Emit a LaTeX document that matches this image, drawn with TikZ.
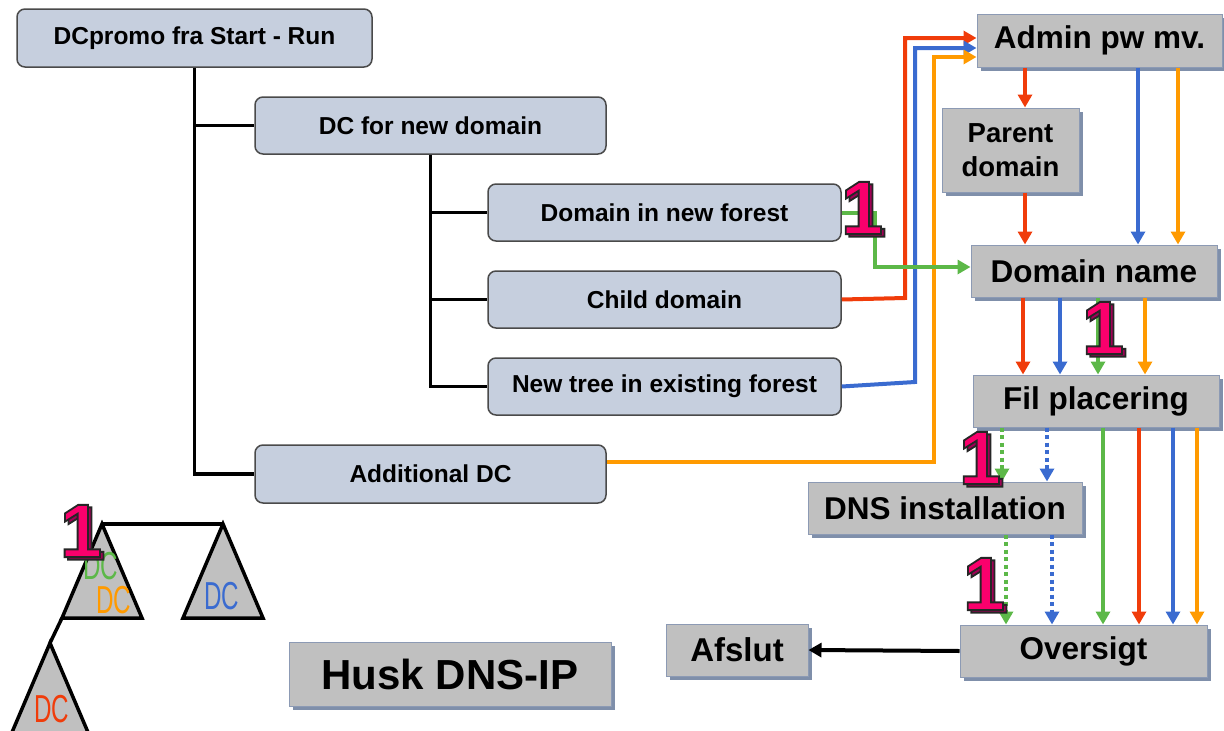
\documentclass[tikz,border=0pt]{standalone}
\usepackage{fontspec}
\setmainfont{Liberation Sans}
\newfontfamily\dcfont[FakeStretch=0.62]{Liberation Sans}
\usetikzlibrary{arrows.meta,shadows}
\definecolor{lfill}{HTML}{C6CFDE}
\definecolor{lborder}{HTML}{4A4A4A}
\definecolor{gfill}{HTML}{C0C0C0}
\definecolor{gborder}{HTML}{8C9AB4}
\definecolor{gshadow}{HTML}{7F8FAA}
\definecolor{cred}{HTML}{F03C0A}
\definecolor{cblue}{HTML}{3A6BD0}
\definecolor{corange}{HTML}{FF9A00}
\definecolor{cgreen}{HTML}{5CB848}
\definecolor{onepink}{HTML}{FA006C}
\definecolor{oneshadow}{HTML}{A00055}
\tikzset{
  lbox/.style={draw=lborder, line width=1.5pt, fill=lfill, rounded corners=8pt, inner sep=0pt,
    font=\bfseries\fontsize{24.5}{26}\selectfont},
  gbox/.style={draw=gborder, line width=1pt, fill=gfill, inner sep=0pt,
    general shadow={fill=gshadow, shadow xshift=4pt, shadow yshift=-4pt},
    font=\bfseries\fontsize{31.5}{33}\selectfont},
  tline/.style={line width=3.5pt, draw=black},
  carr/.style={line width=4pt, -{Triangle[length=13pt,width=14pt]}},
  dotarr/.style={line width=4pt, dash pattern=on 4pt off 3.5pt, -{Triangle[length=13pt,width=14pt]}},
  tri/.style={draw=black, line width=3.5pt, fill=gfill, line join=miter},
  dclabel/.style={inner sep=0pt, font=\dcfont\fontsize{39}{39}\selectfont},
  onefont/.style={inner sep=0pt, font=\bfseries\fontsize{76}{76}\selectfont},
}
\newcommand\outlined[1]{\special{pdf:literal direct 2 Tr 1.8 w 0.15 0.15 0.15 RG}#1\special{pdf:literal direct 0 Tr}}
\newcommand\markone[2]{%
  \begin{scope}[shift={(#2)}]
    \node[onefont, text=oneshadow] (#1s) at (3.5,2.5) {\outlined{1}};
    \node[onefont, text=onepink] (#1) at (0,0) {\outlined{1}};
  \end{scope}}
\begin{document}
\begin{tikzpicture}[x=1pt,y=-1pt]
\useasboundingbox (0,0) rectangle (1224,731);

% left tree boxes
\node[lbox, minimum width=355pt, minimum height=58pt] (start) at (194.5,38) {DCpromo fra Start - Run};
\node[lbox, minimum width=351pt, minimum height=57pt] (newdom) at (430.5,125.5) {DC for new domain};
\node[lbox, minimum width=353pt, minimum height=57pt] (forest) at (664.5,212.5) {Domain in new forest};
\node[lbox, minimum width=353pt, minimum height=57pt] (child) at (664.5,299.5) {Child domain};
\node[lbox, minimum width=353pt, minimum height=57pt] (newtree) at (664.5,386.5) {New tree in existing forest};
\node[lbox, minimum width=351pt, minimum height=58pt] (addl) at (430.5,474) {Additional DC};

% tree lines
\draw[tline] (start.south) -- (start.south |- addl.west) -- (addl.west);
\draw[tline] (start.south |- newdom.west) -- (newdom.west);
\draw[tline] (newdom.south) -- (newdom.south |- newtree.west) -- (newtree.west);
\draw[tline] (newdom.south |- forest.west) -- (forest.west);
\draw[tline] (newdom.south |- child.west) -- (child.west);

% right boxes
\node[gbox, minimum width=245pt, minimum height=53pt] (admin) at (1099.5,40.5) {Admin pw mv.};
\node[gbox, minimum width=137pt, minimum height=84pt, align=center,
      font=\bfseries\fontsize{27.5}{34}\selectfont] (parent) at (1010.5,150) {Parent\\domain};
\node[gbox, minimum width=246pt, minimum height=52pt] (dname) at (1094,271) {Domain name};
\node[gbox, minimum width=246pt, minimum height=52pt] (fil) at (1096,401) {Fil placering};
\node[gbox, minimum width=274pt, minimum height=52pt] (dns) at (945,508) {DNS installation};
\node[gbox, minimum width=247pt, minimum height=52pt] (over) at (1083.5,651) {Oversigt};
\node[gbox, minimum width=142pt, minimum height=52pt, font=\bfseries\fontsize{33}{35}\selectfont] (afslut) at (737,650) {Afslut};
\node[gbox, minimum width=322pt, minimum height=64pt, font=\bfseries\fontsize{42}{44}\selectfont] (husk) at (450,674) {Husk DNS-IP};

% connectors into Admin
\draw[carr, cred] (child.east) -- (905,298) -- (905,38) -- (admin.west |- 905,38);
\draw[carr, cblue] (newtree.east) -- (915,382) -- (915,48) -- (admin.west |- 915,48);
\draw[carr, corange] (addl.east |- 606,462) -- (934,462) -- (934,57) -- (admin.west |- 934,57);
\draw[carr, cgreen] (forest.east) -- (875,212.5) -- (875,267) -- (dname.west |- 875,267);

% admin -> parent -> domain name
\draw[carr, cred] (1025,0 |- admin.south) -- (1025,0 |- parent.north);
\draw[carr, cred] (1025,0 |- parent.south) -- (1025,0 |- dname.north);
\draw[carr, cblue] (1138,0 |- admin.south) -- (1138,0 |- dname.north);
\draw[carr, corange] (1178,0 |- admin.south) -- (1178,0 |- dname.north);

% domain name -> fil placering
\draw[carr, cred] (1023,0 |- dname.south) -- (1023,0 |- fil.north);
\draw[carr, cblue] (1060,0 |- dname.south) -- (1060,0 |- fil.north);
\draw[carr, cgreen] (1098,0 |- dname.south) -- (1098,0 |- fil.north);
\draw[carr, corange] (1145,0 |- dname.south) -- (1145,0 |- fil.north);

% fil placering -> dns / oversigt
\draw[dotarr, cgreen] (1002,0 |- fil.south) -- (1002,0 |- dns.north);
\draw[dotarr, cblue] (1047,0 |- fil.south) -- (1047,0 |- dns.north);
\draw[carr, cgreen] (1103,0 |- fil.south) -- (1103,0 |- over.north);
\draw[carr, cred] (1139,0 |- fil.south) -- (1139,0 |- over.north);
\draw[carr, cblue] (1173,0 |- fil.south) -- (1173,0 |- over.north);
\draw[carr, corange] (1197,0 |- fil.south) -- (1197,0 |- over.north);

% dns -> oversigt
\draw[dotarr, cgreen] (1006,0 |- dns.south) -- (1006,0 |- over.north);
\draw[dotarr, cblue] (1052,0 |- dns.south) -- (1052,0 |- over.north);

% oversigt -> afslut
\draw[carr, black] (over.west) -- (afslut.east);

% triangles
\coordinate (t1top) at (102,524);
\coordinate (t2top) at (223,524);
\coordinate (t1left) at (62,618);
\coordinate (t3top) at (50,643);
\draw[tri] (t1top) -- (142,618) -- (t1left) -- cycle;
\draw[tri] (t2top) -- (263,618) -- (183,618) -- cycle;
\begin{scope}
  \clip (0,0) rectangle (1224,731);
  \draw[tri] (t3top) -- (90,737) -- (10,737) -- cycle;
\end{scope}
\draw[tline] (t1top) -- (t2top);
\draw[tline] (t1left) -- (t3top);
\node[dclabel, text=cgreen] (dcg) at (101,566) {DC};
\node[dclabel, text=corange] (dco) at (114,600) {DC};
\node[dclabel, text=cblue] (dcb) at (222,596) {DC};
\node[dclabel, text=cred] (dcr) at (52,709) {DC};

% "1" marks
\markone{onea}{862,208}
\markone{oneb}{1103,328}
\markone{onec}{980,458}
\markone{oned}{984,584}
\markone{onee}{81,531}
\end{tikzpicture}
\end{document}
